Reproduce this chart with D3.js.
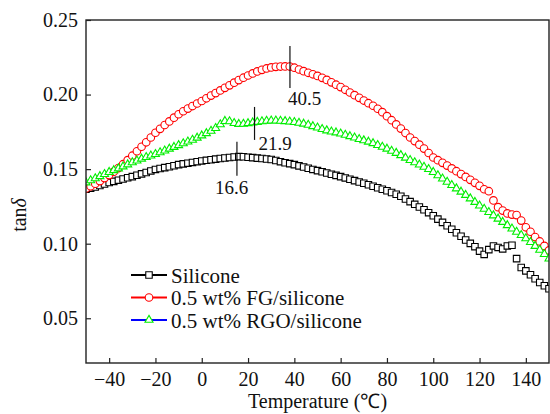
<!DOCTYPE html>
<html><head><meta charset="utf-8">
<script src="https://cdn.jsdelivr.net/npm/d3@7"></script>
<style>
body{margin:0;background:#fff}
svg{display:block}
</style>
</head><body><svg id="c" width="550" height="414"></svg>
<script>
// ---- data ----
const temps = [-50,-48,-46,-44,-42,-40,-38,-36,-34,-32,-30,-28,-26,-24,-22,-20,-18,-16,-14,-12,-10,-8,-6,-4,-2,0,2,4,6,8,10,12,14,16,18,20,22,24,26,28,30,32,34,36,38,40,42,44,46,48,50,52,54,56,58,60,62,64,66,68,70,72,74,76,78,80,82,84,86,88,90,92,94,96,98,100,102,104,106,108,110,112,114,116,118,120,122,124,126,128,130,132,134,136,138,140,142,144,146,148,150];
const silicone = [0.1365,0.1372,0.1380,0.1390,0.1400,0.1410,0.1418,0.1426,0.1434,0.1442,
0.1450,0.1459,0.1468,0.1477,0.1488,0.1498,0.1504,0.1510,0.1516,0.1523,
0.1530,0.1535,0.1540,0.1545,0.1550,0.1555,0.1559,0.1563,0.1567,0.1571,
0.1575,0.1578,0.1581,0.1584,0.1583,0.1580,0.1577,0.1574,0.1571,0.1568,
0.1565,0.1558,0.1550,0.1543,0.1537,0.1530,0.1522,0.1514,0.1506,0.1498,
0.1490,0.1482,0.1474,0.1466,0.1458,0.1450,0.1441,0.1432,0.1423,0.1414,
0.1405,0.1395,0.1385,0.1375,0.1365,0.1355,0.1343,0.1332,0.1318,0.1300,
0.1282,0.1264,0.1246,0.1228,0.1208,0.1187,0.1165,0.1143,0.1120,0.1097,
0.1073,0.1050,0.1025,0.1002,0.0980,0.0950,0.0928,0.0960,0.0985,0.0975,
0.0965,0.0985,0.0990,0.0900,0.0840,0.0818,0.0792,0.0765,0.0740,0.0718,
0.0698];
const fg = [0.1370,0.1385,0.1402,0.1420,0.1440,0.1460,0.1483,0.1507,0.1533,0.1560,
0.1590,0.1620,0.1650,0.1680,0.1712,0.1744,0.1770,0.1796,0.1820,0.1845,
0.1868,0.1888,0.1906,0.1923,0.1940,0.1957,0.1975,0.1993,0.2010,0.2028,
0.2045,0.2062,0.2080,0.2097,0.2113,0.2128,0.2142,0.2155,0.2166,0.2175,
0.2182,0.2186,0.2188,0.2189,0.2188,0.2180,0.2168,0.2157,0.2146,0.2136,
0.2125,0.2112,0.2098,0.2082,0.2066,0.2050,0.2032,0.2014,0.1996,0.1978,
0.1960,0.1942,0.1925,0.1905,0.1882,0.1855,0.1828,0.1800,0.1772,0.1742,
0.1712,0.1688,0.1664,0.1638,0.1608,0.1578,0.1560,0.1542,0.1524,0.1505,
0.1486,0.1467,0.1448,0.1428,0.1408,0.1388,0.1365,0.1352,0.1290,0.1245,
0.1222,0.1203,0.1195,0.1192,0.1155,0.1110,0.1080,0.1045,0.1015,0.0985,
0.0955];
const rgo = [0.1410,0.1424,0.1438,0.1452,0.1466,0.1480,0.1492,0.1504,0.1517,0.1531,
0.1545,0.1557,0.1569,0.1580,0.1590,0.1600,0.1612,0.1624,0.1636,0.1648,
0.1660,0.1672,0.1684,0.1696,0.1710,0.1725,0.1740,0.1756,0.1775,0.1800,
0.1822,0.1820,0.1808,0.1802,0.1803,0.1807,0.1812,0.1816,0.1820,0.1823,
0.1825,0.1825,0.1823,0.1821,0.1818,0.1815,0.1810,0.1804,0.1796,0.1787,
0.1778,0.1768,0.1759,0.1751,0.1745,0.1738,0.1729,0.1720,0.1711,0.1701,
0.1692,0.1683,0.1673,0.1661,0.1649,0.1636,0.1622,0.1608,0.1593,0.1576,
0.1560,0.1545,0.1530,0.1515,0.1500,0.1480,0.1458,0.1436,0.1414,0.1392,
0.1370,0.1348,0.1326,0.1303,0.1279,0.1255,0.1233,0.1211,0.1189,0.1167,
0.1145,0.1123,0.1101,0.1079,0.1057,0.1035,0.1010,0.0984,0.0958,0.0930,
0.0900];
const seriesNames = ["Silicone", "0.5 wt% FG/silicone", "0.5 wt% RGO/silicone"];
const xTicks = [-40, -20, 0, 20, 40, 60, 80, 100, 120, 140];
const yTicks = [0.05, 0.10, 0.15, 0.20, 0.25];
const xDomain = [-50, 150];
const yDomain = [0.02, 0.25];
// peak markers: temperature where drawn, vertical extent, label
const annoT = [15.2, 22.8, 38.1];
const annoTop = [0.1684, 0.1917, 0.2326];
const annoBottom = [0.1455, 0.1696, 0.2044];
const annoLabels = ["16.6", "21.9", "40.5"];

// ---- styles / layout ----
const FONT = '"Liberation Serif", "Times New Roman", Tinos, serif';
const colors = ["#000000", "#ff0000", "#00ee00"];
const legendLineColors = ["#000000", "#ff0000", "#0000ff"];
const shapes = ["square", "circle", "triangle"];
const annoDx = [-22, 4, -2];
const annoDy = [18, 10, 17];

const svg = d3.select("#c");
const L = 86, R = 549, T = 20, B = 363;
const x = d3.scaleLinear().domain(xDomain).range([L, R]);
const y = d3.scaleLinear().domain(yDomain).range([B, T]);

svg.append("defs").append("clipPath").attr("id", "clip")
  .append("rect").attr("x", L).attr("y", T).attr("width", R - L).attr("height", B - T);

function marker(g, shape, color, cx, cy) {
  if (shape === "circle") {
    g.append("circle").attr("cx", cx).attr("cy", cy).attr("r", 3.8)
      .attr("fill", "#fff").attr("stroke", color).attr("stroke-width", 1.1);
  } else {
    const sym = shape === "square" ? d3.symbol(d3.symbolSquare, 42) : d3.symbol(d3.symbolTriangle, 28);
    g.append("path").attr("d", sym()).attr("transform", `translate(${cx},${cy})`)
      .attr("fill", "#fff").attr("stroke", color).attr("stroke-width", 1.1);
  }
}
function styleText(sel, size) {
  sel.style("font-family", FONT).style("font-size", size + "px").style("fill", "#111");
}

const seriesData = [silicone, fg, rgo];
const plot = svg.append("g").attr("clip-path", "url(#clip)");
seriesData.forEach((vals, si) => {
  const g = plot.append("g");
  vals.forEach((v, i) => marker(g, shapes[si], colors[si], x(temps[i]), y(v)));
});

// axes
const axisColor = "#222";
const xAxis = d3.axisBottom(x).tickValues(xTicks).tickSizeInner(-5).tickSizeOuter(0).tickPadding(9);
const yAxis = d3.axisLeft(y).tickValues(yTicks).tickFormat(d3.format(".2f")).tickSizeInner(-5).tickSizeOuter(0).tickPadding(8);
const gx = svg.append("g").attr("transform", `translate(0,${B})`).call(xAxis);
const gy = svg.append("g").attr("transform", `translate(${L},0)`).call(yAxis);
[gx, gy].forEach(g => {
  g.attr("font-family", null).attr("font-size", null);
  g.selectAll("path.domain").remove();
  g.selectAll(".tick line").attr("stroke", axisColor).attr("stroke-width", 1.2);
  styleText(g.selectAll("text"), 20);
});
svg.append("rect").attr("x", L).attr("y", T).attr("width", R - L).attr("height", B - T)
  .attr("fill", "none").attr("stroke", axisColor).attr("stroke-width", 1.4);

// axis titles
styleText(svg.append("text").attr("x", (L + R) / 2).attr("y", 408).attr("text-anchor", "middle")
  .text("Temperature (\u2103)"), 20);
const yl = svg.append("text").attr("transform", "translate(26,215) rotate(-90)").attr("text-anchor", "middle");
styleText(yl, 20);
yl.append("tspan").text("tan");
yl.append("tspan").style("font-style", "italic").text("\u03B4");

// annotations
annoT.forEach((t, i) => {
  svg.append("line").attr("x1", x(t)).attr("x2", x(t)).attr("y1", y(annoTop[i])).attr("y2", y(annoBottom[i]))
    .attr("stroke", "#111").attr("stroke-width", 1.2);
  styleText(svg.append("text").attr("x", x(t) + annoDx[i]).attr("y", y(annoBottom[i]) + annoDy[i])
    .text(annoLabels[i]), 19);
});

// legend
const lg = svg.append("g");
seriesNames.forEach((name, i) => {
  const cy = 275 + i * 22.5;
  lg.append("line").attr("x1", 131).attr("x2", 167).attr("y1", cy).attr("y2", cy)
    .attr("stroke", legendLineColors[i]).attr("stroke-width", 2);
  marker(lg, shapes[i], colors[i], 149, cy);
  styleText(lg.append("text").attr("x", 171).attr("y", cy).attr("dy", "0.36em").text(name), 21);
});
</script>
</body></html>
